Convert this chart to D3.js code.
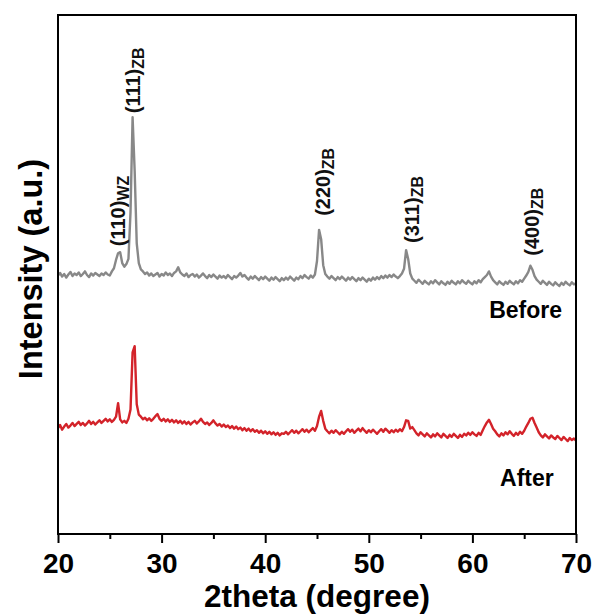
<!DOCTYPE html>
<html>
<head>
<meta charset="utf-8">
<script src="https://cdn.jsdelivr.net/npm/d3@7"></script>
<style>
  body { margin: 0; background: #fff; }
  text { font-family: Arial, "Liberation Sans", sans-serif; }
</style>
</head>
<body>
<div id="chart"></div>
<script>
// XRD patterns, 2theta from 20 to 70 in 0.2 degree steps
const thetaStart = 20;
const thetaStep = 0.2;

const beforeCounts = [
  498, 503, 496, 501, 494, 500, 505, 497, 502, 499,
  504, 497, 501, 506, 499, 495, 502, 498, 503, 500,
  497, 502, 499, 504, 500, 498, 506, 512, 528, 541,
  543, 522, 515, 520, 530, 620, 803, 700, 560, 522,
  510, 506, 501, 504, 498, 502, 497, 500, 503, 496,
  501, 498, 504, 499, 502, 497, 503, 506, 514, 504,
  500, 497, 502, 495, 499, 501, 496, 500, 494, 498,
  502, 497, 493, 499, 495, 500, 496, 492, 498, 494,
  497, 493, 499, 495, 491, 497, 494, 498, 503, 496,
  499, 494, 490, 496, 492, 497, 493, 489, 495, 491,
  496, 492, 488, 494, 490, 495, 491, 487, 493, 489,
  494, 490, 496, 492, 488, 494, 491, 497, 493, 499,
  495, 492, 498, 494, 500, 526, 586, 568, 518, 501,
  496, 492, 497, 493, 489, 495, 491, 496, 492, 488,
  494, 490, 495, 491, 487, 493, 489, 494, 490, 486,
  492, 488, 494, 490, 495, 491, 497, 493, 498, 494,
  499, 495, 500, 496, 493, 497, 502, 511, 547, 530,
  502, 492, 488, 484, 490, 486, 482, 488, 484, 481,
  487, 483, 489, 485, 481, 487, 483, 480, 486, 482,
  488, 484, 481, 487, 483, 489, 485, 482, 488, 484,
  481, 487, 483, 489, 485, 491, 495, 499, 506, 496,
  489, 485, 481, 487, 483, 480, 486, 482, 488, 484,
  481, 487, 483, 489, 486, 492, 498, 505, 517, 509,
  497, 490, 486, 482, 488, 484, 480, 486, 482, 479,
  485, 481, 478, 484, 480, 486, 482, 479, 485, 481,
  483
];

const afterCounts = [
  204, 210, 201, 207, 212, 205, 209, 214, 208, 212,
  216, 210, 214, 209, 213, 218, 212, 216, 211, 215,
  219, 214, 218, 222, 217, 221, 216, 220, 226, 252,
  221, 215, 218, 214, 222, 240, 350, 362, 250, 230,
  226, 221, 224, 219, 223, 218, 222, 227, 231, 222,
  218, 222, 217, 221, 216, 220, 215, 219, 214, 218,
  213, 217, 212, 216, 211, 215, 218, 213, 217, 222,
  216, 212, 215, 210, 214, 219, 213, 209, 212, 207,
  211, 206, 209, 204, 208, 203, 207, 202, 205, 200,
  204, 199, 203, 198, 202, 197, 200, 195, 199, 194,
  198, 193, 197, 192, 196, 191, 195, 190, 194, 193,
  197, 192, 196, 200, 195, 199, 194, 198, 202, 197,
  201, 196, 200, 204, 199, 208, 226, 237, 218, 203,
  198, 194, 199, 195, 200, 196, 192, 197, 193, 198,
  202, 197, 201, 195, 199, 203, 198, 204, 199, 195,
  200, 196, 201, 197, 193, 198, 202, 197, 203, 199,
  195, 200, 196, 201, 197, 202, 198, 206, 219, 218,
  203, 206, 200, 194, 190, 196, 192, 188, 194, 190,
  186, 192, 188, 194, 190, 186, 193, 189, 185, 191,
  187, 193, 189, 185, 191, 187, 193, 190, 195, 191,
  196, 192, 189, 195, 191, 200, 208, 215, 220, 212,
  203, 198, 192, 188, 194, 190, 196, 192, 198, 193,
  189, 195, 191, 197, 193, 199, 207, 214, 222, 224,
  214, 205, 196, 190, 186, 192, 188, 184, 190, 186,
  183, 189, 185, 181, 187, 183, 179, 185, 181, 184,
  180
];

const xTicks = [20, 30, 40, 50, 60, 70];
const xMinorTicks = [25, 35, 45, 55, 65];

const peakHkl = ['(110)', '(111)', '(220)', '(311)', '(400)'];
const peakPhase = ['WZ', 'ZB', 'ZB', 'ZB', 'ZB'];
const peakTheta = [25.8, 27.25, 45.6, 54.2, 65.75];

const seriesNames = ['Before', 'After'];
const seriesColors = ['#888888', '#d3232a'];

// Set the dimensions of the chart
const margin = {top: 15, right: 20, bottom: 81, left: 58};
const width = 596 - margin.left - margin.right;
const height = 615 - margin.top - margin.bottom;

const svg = d3.select('#chart').append('svg')
  .attr('width', 596)
  .attr('height', 615)
  .append('g')
  .attr('transform', `translate(${margin.left},${margin.top})`);

const x = d3.scaleLinear().domain([20, 70]).range([0, width]);
const y = d3.scaleLinear().domain([0, 1000]).range([height, 0]);

const thetaAt = i => thetaStart + i * thetaStep;

const line = d3.line()
  .x((d, i) => x(thetaAt(i)))
  .y(d => y(d));

// patterns
[beforeCounts, afterCounts].forEach((counts, k) => {
  svg.append('path')
    .datum(counts)
    .attr('fill', 'none')
    .attr('stroke', seriesColors[k])
    .attr('stroke-width', 2.4)
    .attr('stroke-linejoin', 'round')
    .attr('d', line);
});

// peak labels, placed just above the highest point of the Before pattern near each peak
const labelGap = [6, 4, 14, 16, 10];
peakHkl.forEach((hkl, k) => {
  const near = beforeCounts.filter((c, i) => Math.abs(thetaAt(i) - peakTheta[k]) <= 0.5);
  const top = d3.max(near);
  const t = svg.append('text')
    .attr('transform', `translate(${x(peakTheta[k]) + 7},${y(top) - labelGap[k]}) rotate(-90)`)
    .attr('font-size', 20)
    .attr('font-weight', 'bold')
    .attr('fill', '#111');
  t.append('tspan').text(hkl);
  t.append('tspan').attr('font-size', 16).attr('dy', 4).text(peakPhase[k]);
});

// series names
svg.append('text')
  .attr('x', x(68.65)).attr('y', y(416))
  .attr('text-anchor', 'end')
  .attr('font-size', 23).attr('font-weight', 'bold')
  .text(seriesNames[0]);
svg.append('text')
  .attr('x', x(67.85)).attr('y', y(92))
  .attr('text-anchor', 'end')
  .attr('font-size', 23).attr('font-weight', 'bold')
  .text(seriesNames[1]);

// frame
svg.append('rect')
  .attr('width', width).attr('height', height)
  .attr('fill', 'none').attr('stroke', '#000').attr('stroke-width', 2);

// x axis
const xAxis = svg.append('g')
  .attr('transform', `translate(0,${height})`)
  .call(d3.axisBottom(x).tickValues(xTicks).tickSize(9).tickPadding(10).tickFormat(d3.format('d')));
xAxis.select('.domain').remove();
xAxis.selectAll('line').attr('stroke-width', 2);
xAxis.selectAll('text')
  .attr('font-size', 28).attr('font-weight', 'bold')
  .attr('font-family', 'Arial, "Liberation Sans", sans-serif').attr('fill', '#000');

const xMinor = svg.append('g')
  .attr('transform', `translate(0,${height})`)
  .call(d3.axisBottom(x).tickValues(xMinorTicks).tickSize(5).tickFormat(''));
xMinor.select('.domain').remove();
xMinor.selectAll('line').attr('stroke-width', 2);

// axis titles
svg.append('text')
  .attr('x', width / 2).attr('y', height + 73)
  .attr('text-anchor', 'middle')
  .attr('font-size', 31.5).attr('font-weight', 'bold')
  .text('2theta (degree)');

svg.append('text')
  .attr('transform', `translate(${42 - margin.left},${269 - margin.top}) rotate(-90)`)
  .attr('text-anchor', 'middle')
  .attr('font-size', 32.5).attr('font-weight', 'bold')
  .text('Intensity (a.u.)');
</script>
</body>
</html>
